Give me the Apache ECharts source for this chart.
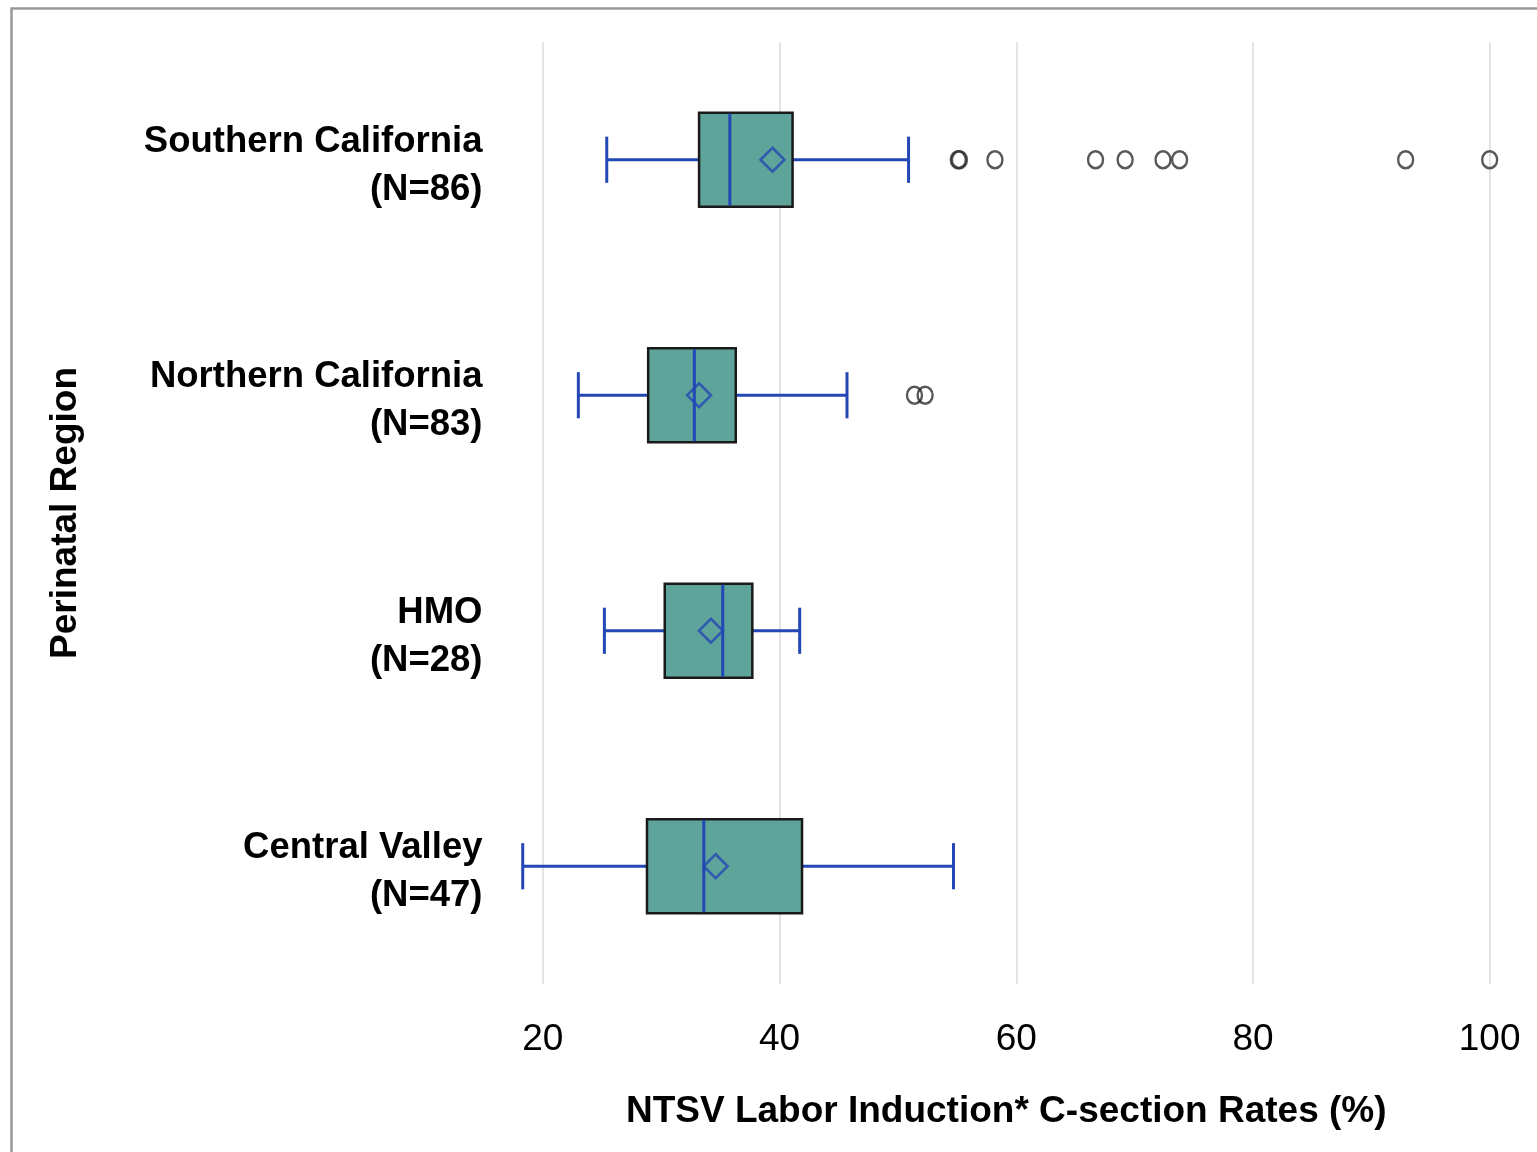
<!DOCTYPE html>
<html>
<head>
<meta charset="utf-8">
<script src="https://cdn.jsdelivr.net/npm/echarts@6/dist/echarts.min.js"></script>
<style>
html,body{margin:0;padding:0;background:#fff;}
#chart{width:1537px;height:1152px;}
</style>
</head>
<body>
<div id="chart"></div>
<script>
// ---- Data ----
const regions = ['Southern California', 'Northern California', 'HMO', 'Central Valley'];
const counts = [86, 83, 28, 47];
// [whisker low, Q1, median, Q3, whisker high]
const southern = [25.4, 33.2, 35.8, 41.1, 50.9];
const northern = [23.0, 28.9, 32.8, 36.3, 45.7];
const hmo = [25.2, 30.3, 35.2, 37.7, 41.7];
const centralValley = [18.3, 28.8, 33.6, 41.9, 54.7];
const means = [39.4, 33.2, 34.2, 34.6];
const southernOutliers = [55.1, 55.2, 58.2, 66.7, 69.2, 72.4, 73.8, 92.9, 100.0];
const northernOutliers = [51.4, 52.3];
const tickLabels = [20, 40, 60, 80, 100];
const xName = 'NTSV Labor Induction* C-section Rates (%)';
const yName = 'Perinatal Region';

// ---- Build options ----
const boxStats = [southern, northern, hmo, centralValley];
const categories = regions.map((r, i) => r + '\n(N=' + counts[i] + ')');
const boxData = boxStats.map((s, i) => [i].concat(s));
const meanData = means.map((m, i) => [m, i]);
const outlierData = []
  .concat(southernOutliers.map(v => [v, 0]))
  .concat(northernOutliers.map(v => [v, 1]));

const BLUE = '#2347b5';
const TEAL = '#5ea49a';
const FONT = '"Liberation Sans", Arial, Helvetica, sans-serif';

function renderBox(params, api) {
  const cat = api.value(0);
  const lo = api.coord([api.value(1), cat]);
  const q1 = api.coord([api.value(2), cat]);
  const md = api.coord([api.value(3), cat]);
  const q3 = api.coord([api.value(4), cat]);
  const hi = api.coord([api.value(5), cat]);
  const band = api.size([0, 1])[1];
  const bh = band * 0.40;
  const ch = band * 0.196;
  const y = lo[1];
  const lineStyle = {stroke: BLUE, lineWidth: 3};
  return {
    type: 'group',
    children: [
      {type: 'line', shape: {x1: lo[0], y1: y, x2: q1[0], y2: y}, style: lineStyle},
      {type: 'line', shape: {x1: q3[0], y1: y, x2: hi[0], y2: y}, style: lineStyle},
      {type: 'line', shape: {x1: lo[0], y1: y - ch / 2, x2: lo[0], y2: y + ch / 2}, style: lineStyle},
      {type: 'line', shape: {x1: hi[0], y1: y - ch / 2, x2: hi[0], y2: y + ch / 2}, style: lineStyle},
      {type: 'rect', shape: {x: q1[0], y: y - bh / 2, width: q3[0] - q1[0], height: bh},
        style: {fill: TEAL, stroke: '#1a1a1a', lineWidth: 2.5}},
      {type: 'line', shape: {x1: md[0], y1: y - bh / 2 + 1, x2: md[0], y2: y + bh / 2 - 1}, style: lineStyle}
    ]
  };
}

const labelStyle = {fontSize: 36.5, fontWeight: 'bold', color: '#000', fontFamily: FONT, lineHeight: 48, align: 'right', padding: [12, 0, 0, 0]};

const chart = echarts.init(document.getElementById('chart'));
chart.setOption({
  backgroundColor: '#ffffff',
  animation: false,
  graphic: [{
    type: 'rect', left: 9, top: 6, z: 100, silent: true,
    shape: {width: 1600, height: 1200},
    style: {fill: 'none', stroke: '#999999', lineWidth: 2.5}
  }],
  grid: {left: 495.5, top: 42, width: 1046, height: 942, containLabel: false},
  xAxis: {
    type: 'value', min: 16, max: 104,
    axisLine: {show: false}, axisTick: {show: false, customValues: tickLabels},
    axisLabel: {customValues: tickLabels, margin: 37, fontSize: 37, color: '#000', fontFamily: FONT},
    splitLine: {show: true, lineStyle: {color: '#e3e3e3', width: 2}},
    name: xName, nameLocation: 'middle', nameGap: 109,
    nameTextStyle: {fontSize: 37, fontWeight: 'bold', color: '#000', fontFamily: FONT, padding: [0, 20, 0, 0]}
  },
  yAxis: {
    type: 'category', data: categories, inverse: true,
    axisLine: {show: false}, axisTick: {show: false}, splitLine: {show: false},
    axisLabel: {
      margin: 13, fontSize: 36.5, fontWeight: 'bold', color: '#000', fontFamily: FONT, lineHeight: 48, align: 'right',
      formatter: function (v) {
        const parts = v.split('\n');
        return '{a|' + parts[0] + '}\n{a|' + parts[1] + '}';
      },
      rich: {a: labelStyle}
    },
    name: yName, nameLocation: 'middle', nameGap: 411,
    nameTextStyle: {fontSize: 37, fontWeight: 'bold', color: '#000', fontFamily: FONT}
  },
  series: [
    {
      type: 'custom', name: 'box', renderItem: renderBox, data: boxData,
      encode: {y: 0, x: [1, 2, 3, 4, 5]}, z: 2
    },
    {
      type: 'scatter', name: 'mean', data: meanData, symbol: 'diamond', symbolSize: [24, 24], z: 3,
      itemStyle: {color: 'rgba(0,0,0,0)', borderColor: BLUE, borderWidth: 2.5}
    },
    {
      type: 'scatter', name: 'outliers', data: outlierData, symbol: 'circle', symbolSize: [15, 17], z: 3,
      itemStyle: {color: 'rgba(0,0,0,0)', borderColor: '#2e2e2e', borderWidth: 2.5}
    }
  ]
});
</script>
</body>
</html>
